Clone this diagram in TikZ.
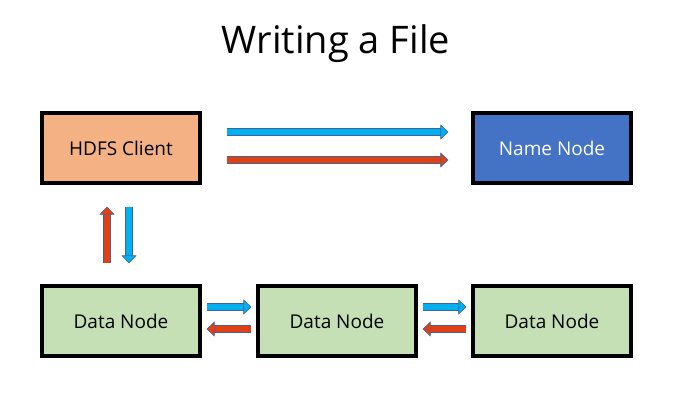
\documentclass[tikz,border=0pt]{standalone}
\usepackage{fontspec}
\setmainfont{Open Sans}
\usetikzlibrary{arrows.meta}

\begin{document}
\begin{tikzpicture}[x=1pt, y=-1pt,
  box/.style={draw=black, line width=3.2pt, minimum width=158pt, minimum height=70pt,
    inner sep=0pt, font=\fontsize{19}{22}\selectfont},
  flow/.style={double=#1, double distance=6pt, line width=0.6pt, draw=Edge,
    -{Triangle[length=8pt, width=15pt, line width=0.6pt, fill=#1, color=Edge]}}]

\definecolor{Client}{RGB}{244,177,131}
\definecolor{NameBlue}{RGB}{68,114,196}
\definecolor{DataGreen}{RGB}{197,224,180}
\definecolor{Sky}{RGB}{0,176,240}
\definecolor{Fire}{RGB}{226,64,20}
\definecolor{Edge}{RGB}{65,100,150}

\useasboundingbox (0,0) rectangle (682,400);

\node (title) at (336,44) {\fontsize{38}{46}\selectfont Writing a File};

\node[box, fill=Client] (client) at (121,148) {HDFS Client};
\node[box, fill=NameBlue, text=white] (namenode) at (552,148) {Name Node};
\foreach \x/\n in {121/1, 337/2, 552/3} {
  \node[box, fill=DataGreen] (data\n) at (\x,321) {Data Node};
}

% client and name node
\draw[flow=Sky] ([xshift=25pt, yshift=16pt]client.east) -- ([xshift=-23pt, yshift=16pt]namenode.west);
\draw[flow=Fire] ([xshift=25pt, yshift=-12pt]client.east) -- ([xshift=-23pt, yshift=-12pt]namenode.west);

% client and first data node
\draw[flow=Fire] ([xshift=-14pt, yshift=21pt]data1.north) -- ([xshift=-14pt, yshift=-22pt]client.south);
\draw[flow=Sky] ([xshift=8pt, yshift=-22pt]client.south) -- ([xshift=8pt, yshift=21pt]data1.north);

% pipeline
\foreach \a/\b in {1/2, 2/3} {
  \draw[flow=Sky] ([xshift=5pt, yshift=14pt]data\a.east) -- ([xshift=-5pt, yshift=14pt]data\b.west);
  \draw[flow=Fire] ([xshift=-5pt, yshift=-8pt]data\b.west) -- ([xshift=5pt, yshift=-8pt]data\a.east);
}

\end{tikzpicture}
\end{document}
